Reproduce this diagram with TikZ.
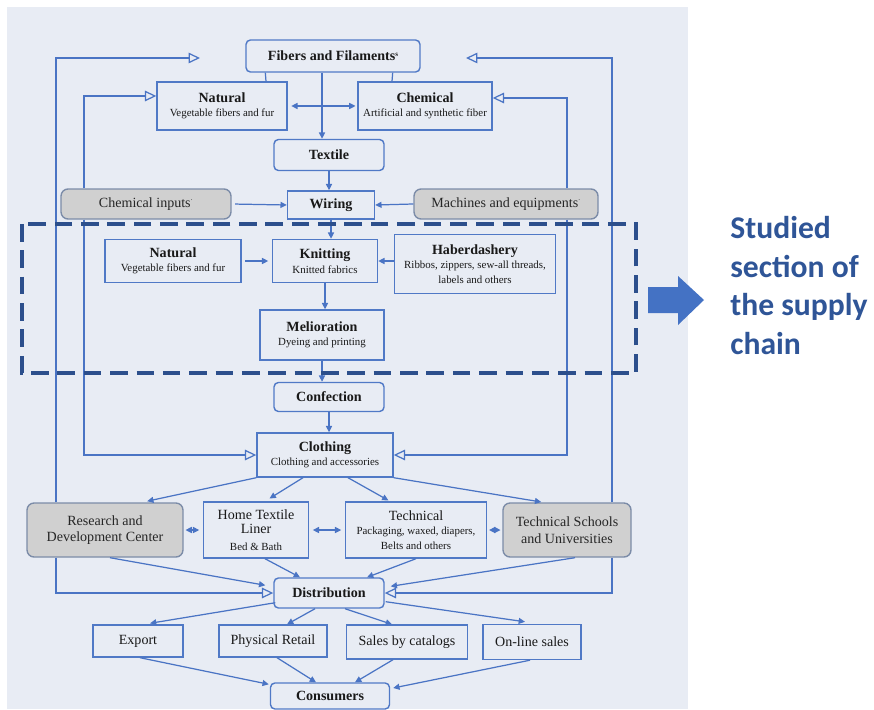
\documentclass[tikz,border=0pt]{standalone}
\usepackage{fontspec}
\setmainfont{Liberation Serif}
\newfontfamily\calibfont{Carlito}
\usetikzlibrary{arrows.meta, calc}

\definecolor{panel}{HTML}{E8ECF4}
\definecolor{boxblue}{HTML}{5079C6}
\definecolor{linkblue}{HTML}{4A74C4}
\definecolor{greyfill}{HTML}{D0D0D0}
\definecolor{greyline}{HTML}{7C8CA8}
\definecolor{dashblue}{HTML}{2C4F8C}
\definecolor{noteblue}{HTML}{2F5597}
\definecolor{bigarrow}{HTML}{4472C4}

\newcommand{\bxtitle}[1]{{\bfseries\fontsize{8}{9}\selectfont #1}}
\newcommand{\bxreg}[1]{{\fontsize{8}{9}\selectfont #1}}
\newcommand{\bxsub}[1]{{\fontsize{6.2}{7}\selectfont #1}}
\newcommand{\bxmark}[1]{\raisebox{2.5pt}{\fontsize{4}{4}\selectfont #1}}

\begin{document}
\begin{tikzpicture}[x=0.02cm, y=-0.02cm, >={Triangle[length=3.6pt,width=3.4pt]},
    box/.style={draw=boxblue, fill=panel, line width=0.8pt, align=center, inner sep=1pt,
        text=black!90, font=\fontsize{8}{8.2}\selectfont},
    rbox/.style={box, rounded corners=2.5pt},
    gbox/.style={draw=greyline, fill=greyfill, line width=0.8pt, rounded corners=4pt,
        align=center, inner sep=1pt, text=black!85, font=\fontsize{8}{9.5}\selectfont},
    link/.style={draw=linkblue, line width=0.7pt},
    fb/.style={link, -{Triangle[open,length=6.5pt,width=6pt]}}]

    \useasboundingbox (0,0) rectangle (874,709);
    \fill[panel] (7,7) rectangle (688,709);

    \node[rbox, minimum width=3.48cm, minimum height=0.64cm] (fib) at (333,56) {\bxtitle{Fibers and Filaments\bxmark{s}}};
    \node[box, minimum width=2.6cm, minimum height=0.96cm] (nat1) at (222,106) {\bxtitle{Natural}\\\bxsub{Vegetable fibers and fur}};
    \node[box, minimum width=2.68cm, minimum height=0.96cm] (chem) at (425,106) {\bxtitle{Chemical}\\\bxsub{Artificial and synthetic fiber}};
    \node[rbox, minimum width=2.2cm, minimum height=0.62cm] (tex) at (329,155) {\bxtitle{Textile}};
    \node[gbox, minimum width=3.4cm, minimum height=0.6cm] (cin) at (146,204) {Chemical inputs\bxmark{·}};
    \node[box, minimum width=1.74cm, minimum height=0.56cm] (wir) at (331,205) {\bxtitle{Wiring}};
    \node[gbox, minimum width=3.68cm, minimum height=0.6cm] (mach) at (506,204) {Machines and equipments\bxmark{·}};

    \node[box, minimum width=2.72cm, minimum height=0.86cm] (nat2) at (173,261) {\bxtitle{Natural}\\\bxsub{Vegetable fibers and fur}};
    \node[box, minimum width=2.1cm, minimum height=0.86cm] (knit) at (325,261) {\bxtitle{Knitting}\\\bxsub{Knitted fabrics}};
    \node[box, minimum width=3.22cm, minimum height=1.18cm] (hab) at (475,264) {\bxtitle{Haberdashery}\\\bxsub{Ribbos, zippers, sew-all threads,}\\\bxsub{labels and others}};
    \node[box, minimum width=2.48cm, minimum height=1.0cm] (mel) at (322,335) {\bxtitle{Melioration}\\\bxsub{Dyeing and printing}};

    \node[rbox, minimum width=2.2cm, minimum height=0.58cm] (conf) at (329,397) {\bxtitle{Confection}};
    \node[box, minimum width=2.72cm, minimum height=0.88cm] (clo) at (325,455) {\bxtitle{Clothing}\\\bxsub{Clothing and accessories}};
    \node[gbox, minimum width=3.12cm, minimum height=1.08cm] (rd) at (105,530) {Research and\\Development Center};
    \node[box, minimum width=2.1cm, minimum height=1.12cm] (home) at (256,530) {\bxreg{Home Textile}\\\bxreg{Liner}\\[1pt]\bxsub{Bed \& Bath}};
    \node[box, minimum width=2.82cm, minimum height=1.12cm] (tech) at (416,530) {\bxreg{Technical}\\\bxsub{Packaging, waxed, diapers,}\\\bxsub{Belts and others}};
    \node[gbox, minimum width=2.56cm, minimum height=1.08cm] (tsu) at (567,530) {Technical Schools\\and Universities};

    \node[rbox, minimum width=2.2cm, minimum height=0.6cm] (dist) at (329,593) {\bxtitle{Distribution}};
    \node[box, minimum width=1.8cm, minimum height=0.64cm] (exp) at (138,641) {\bxreg{Export}};
    \node[box, minimum width=2.16cm, minimum height=0.64cm] (ret) at (273,641) {\bxreg{Physical Retail}};
    \node[box, minimum width=2.42cm, minimum height=0.68cm] (cat) at (407,642) {\bxreg{Sales by catalogs}};
    \node[box, minimum width=1.96cm, minimum height=0.7cm] (onl) at (532,642) {\bxreg{On-line sales}};
    \node[rbox, minimum width=2.38cm, minimum height=0.52cm] (cons) at (330,696) {\bxtitle{Consumers}};

    % feedback loops
    \coordinate (lo) at (56,58);
    \coordinate (ro) at (612,58);
    \coordinate (li) at (84,96);
    \coordinate (ri) at (567,98);
    \coordinate (fibl) at (200,58);
    \coordinate (fibr) at (466,58);
    \draw[fb] (rd.north -| lo) -- (lo) -- (fibl);
    \draw[fb] (rd.south -| lo) |- (dist.west);
    \draw[fb] (tsu.north -| ro) -- (ro) -- (fibr);
    \draw[fb] (tsu.south -| ro) |- (dist.east);
    \draw[fb] (cin.north -| li) |- (nat1.west |- li);
    \draw[fb] (cin.south -| li) |- (clo.west);
    \draw[fb] (mach.north -| ri) |- (chem.east |- ri);
    \draw[fb] (mach.south -| ri) |- (clo.east);

    \draw[link] ($(fib.south west)+(20,0)$) -- ($(nat1.north)+(44,0)$);
    \draw[link] ($(fib.south east)+(-28,0)$) -- ($(chem.north)+(-33,0)$);
    \draw[link,->] ($(fib.south)+(-11,0)$) -- ($(tex.north)+(-7,0)$);
    \draw[link,<->,shorten <=2pt,shorten >=1pt] (nat1.east) -- (chem.west);
    \draw[link,->] (tex.south) -- (tex.south |- wir.north);
    \draw[link,->,shorten <=2pt] (cin.east) -- (wir.west);
    \draw[link,->] (mach.west) -- (wir.east);
    \draw[link,->] (wir.south) -- (wir.south |- knit.north);
    \draw[link,->,shorten <=2pt,shorten >=2pt] (nat2.east) -- (knit.west);
    \draw[link,->] (hab.west |- knit) -- (knit.east);
    \draw[link,->] (knit.south) -- (knit.south |- mel.north);
    \draw[link,->] (mel.south) -- (mel.south |- conf.north);
    \draw[link,->] (conf.south) -- (conf.south |- clo.north);

    \draw[link,->,shorten >=3pt] (clo.south west) -- ($(rd.north)+(37,0)$);
    \draw[link,->,shorten >=3pt] ($(clo.south)+(-22,0)$) -- ($(home.north)+(9,0)$);
    \draw[link,->,shorten >=1pt] ($(clo.south)+(23,0)$) -- ($(tech.north)+(-26,0)$);
    \draw[link,->,shorten >=1pt] (clo.south east) -- ($(tsu.north)+(-24,0)$);
    \draw[link,<->,shorten <=1pt,shorten >=2pt] (rd.east) -- (home.west);
    \draw[link,<->,shorten <=2pt,shorten >=2pt] (home.east) -- (tech.west);
    \draw[link,<->,shorten <=1pt,shorten >=1pt] (tech.east) -- (tsu.west);

    \draw[link,->] ($(rd.south)+(5,0)$) -- ($(dist.north west)+(-8,8)$);
    \draw[link,->] ($(home.south)+(9,0)$) -- ($(dist.north)+(-29,0)$);
    \draw[link,->] (tech.south) -- ($(dist.north)+(38,0)$);
    \draw[link,->] ($(tsu.south)+(8,0)$) -- ($(dist.north east)+(6,9)$);

    \draw[link,->] ($(dist.south west)+(2,-6)$) -- ($(exp.north)+(12,-1)$);
    \draw[link,->] ($(dist.south)+(-14,0)$) -- ($(ret.north)+(14,0)$);
    \draw[link,->] ($(dist.south)+(16,0)$) -- ($(cat.north)+(-15,0)$);
    \draw[link,->] ($(dist.south east)+(1,-7)$) -- ($(onl.north)+(-7,-2)$);
    \draw[link,->] ($(exp.south)+(2,0)$) -- ($(cons.north west)+(-1,2)$);
    \draw[link,->] ($(ret.south)+(4,0)$) -- ($(cons.north)+(-14,0)$);
    \draw[link,->] ($(cat.south)+(-14,0)$) -- ($(cons.north)+(25,0)$);
    \draw[link,->] ($(onl.south)+(-2,0)$) -- ($(cons.east)+(3,-8)$);

    % studied section
    \draw[dashblue, line width=2.2pt, dash pattern=on 10pt off 5pt] (22,224) rectangle (636,373);
    \fill[bigarrow] (648,287) -- (678,287) -- (678,276) -- (704,300) -- (678,325) -- (678,313) -- (648,313) -- cycle;
    \node[anchor=north west, inner sep=0pt, align=left, text=noteblue,
        font=\calibfont\bfseries\fontsize{18}{22}\selectfont] (note) at (730,216) {Studied\\section of\\the supply\\chain};

\end{tikzpicture}
\end{document}
